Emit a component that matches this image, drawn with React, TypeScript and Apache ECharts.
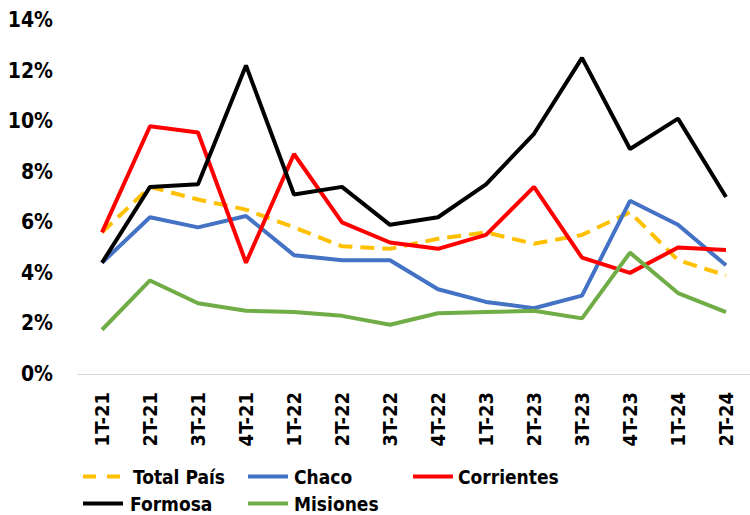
import React, { useEffect, useRef } from "react";
import * as echarts from "echarts";

const categories = ["1T-21", "2T-21", "3T-21", "4T-21", "1T-22", "2T-22", "3T-22", "4T-22", "1T-23", "2T-23", "3T-23", "4T-23", "1T-24", "2T-24"];
const totalPais = [5.6, 7.4, 6.9, 6.5, 5.8, 5.05, 4.95, 5.35, 5.6, 5.15, 5.5, 6.4, 4.5, 3.9];
const chaco = [4.4, 6.2, 5.8, 6.25, 4.7, 4.5, 4.5, 3.35, 2.85, 2.6, 3.1, 6.85, 5.9, 4.3];
const corrientes = [5.6, 9.8, 9.55, 4.4, 8.7, 6.0, 5.2, 4.95, 5.5, 7.4, 4.6, 4.0, 5.0, 4.9];
const formosa = [4.4, 7.4, 7.5, 12.2, 7.1, 7.4, 5.9, 6.2, 7.5, 9.5, 12.5, 8.9, 10.1, 7.0];
const misiones = [1.75, 3.7, 2.8, 2.5, 2.45, 2.3, 1.95, 2.4, 2.45, 2.5, 2.2, 4.8, 3.2, 2.45];

const FONT = "'Liberation Sans Narrow', 'DejaVu Sans Condensed', 'Liberation Sans', sans-serif";
const SOLID_ICON = "path://M0,0h40v4h-40z";
const DASH_ICON = "path://M0,0h13v4h-13z M24,0h13v4h-13z";

export default function App() {
  const ref = useRef<HTMLDivElement>(null);
  useEffect(() => {
    if (!ref.current) return;
    const chart = echarts.init(ref.current, undefined, { renderer: "svg" });
    const mkLine = (name: string, data: number[], color: string, dashed = false) => ({
      name,
      type: "line",
      data,
      symbol: "none",
      lineStyle: { color, width: 4, type: dashed ? [14, 8] : "solid" },
      itemStyle: { color },
    });
    const mkLegend = (name: string, left: number, top: number, width: number, icon: string, pad = 0) => ({
      data: [{ name, icon }],
      left,
      top,
      itemWidth: width,
      itemHeight: 4,
      padding: 0,
      textStyle: { fontFamily: FONT, fontWeight: "bold", fontSize: 19, color: "#000", padding: [0, 0, 0, pad] },
    });
    chart.setOption({
      animation: false,
      backgroundColor: "#fff",
      grid: { left: 78, width: 682, top: 20, bottom: 141 },
      xAxis: {
        type: "category",
        data: categories,
        boundaryGap: true,
        axisLine: { lineStyle: { color: "#D9D9D9", width: 1 } },
        axisTick: { show: false },
        axisLabel: { rotate: 90, margin: 18, fontFamily: FONT, fontWeight: "bold", fontSize: 20, color: "#000" },
      },
      yAxis: {
        type: "value",
        min: 0,
        max: 14,
        interval: 2,
        splitLine: { show: false },
        axisLine: { show: false },
        axisTick: { show: false },
        axisLabel: { margin: 25, formatter: "{value}%", fontFamily: FONT, fontWeight: "bold", fontSize: 21, color: "#000" },
      },
      legend: [
        mkLegend("Total País", 83, 467, 37, DASH_ICON, 8),
        mkLegend("Chaco", 248, 467, 42, SOLID_ICON, 0),
        mkLegend("Corrientes", 413, 467, 40, SOLID_ICON, 0),
        mkLegend("Formosa", 83, 494, 40, SOLID_ICON, 2),
        mkLegend("Misiones", 248, 494, 42, SOLID_ICON, 0),
      ],
      series: [
        mkLine("Total País", totalPais, "#FFC000", true),
        mkLine("Chaco", chaco, "#4472C4"),
        mkLine("Corrientes", corrientes, "#FF0000"),
        mkLine("Formosa", formosa, "#000000"),
        mkLine("Misiones", misiones, "#70AD47"),
      ],
    });
    return () => chart.dispose();
  }, []);
  return <div ref={ref} style={{ width: 750, height: 515, position: "absolute", left: 0, top: 0 }} />;
}
